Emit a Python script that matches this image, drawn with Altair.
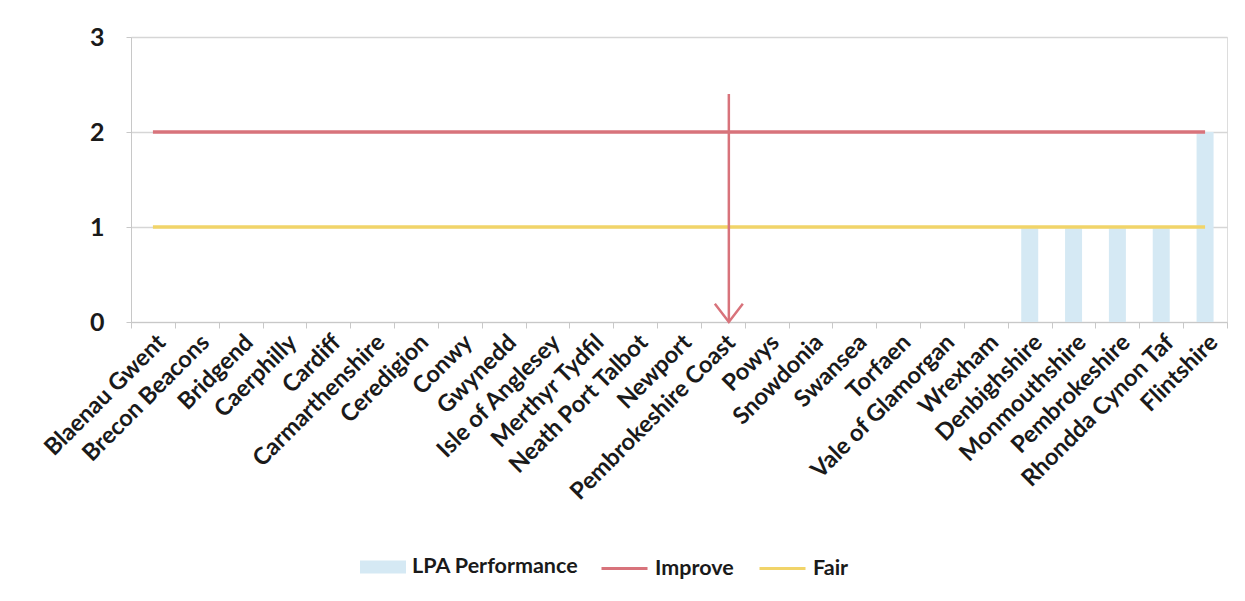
import altair as alt
import pandas as pd

categories = ["Blaenau Gwent", "Brecon Beacons", "Bridgend", "Caerphilly", "Cardiff",
              "Carmarthenshire", "Ceredigion", "Conwy", "Gwynedd", "Isle of Anglesey",
              "Merthyr Tydfil", "Neath Port Talbot", "Newport", "Pembrokeshire Coast",
              "Powys", "Snowdonia", "Swansea", "Torfaen", "Vale of Glamorgan", "Wrexham",
              "Denbighshire", "Monmouthshire", "Pembrokeshire", "Rhondda Cynon Taf", "Flintshire"]
lpa_values = [0, 0, 0, 0, 0, 0, 0, 0, 0, 0, 0, 0, 0, 0, 0, 0, 0, 0, 0, 0, 1, 1, 1, 1, 2]
improve_values = [2, 2, 2, 2, 2, 2, 2, 2, 2, 2, 2, 2, 2, 2, 2, 2, 2, 2, 2, 2, 2, 2, 2, 2, 2]
fair_values = [1, 1, 1, 1, 1, 1, 1, 1, 1, 1, 1, 1, 1, 1, 1, 1, 1, 1, 1, 1, 1, 1, 1, 1, 1]
bar_series = ["LPA Performance"]
bar_colors = ["#d5e9f4"]
line_series = ["Improve", "Fair"]
line_colors = ["#d8737b", "#f1d469"]
arrow_category = ["Pembrokeshire Coast"]
arrow_top = [2.4]
arrow_bottom = [0]

FONT = "Lato"

bars_df = pd.DataFrame({"category": categories, "value": lpa_values, "series": bar_series[0]})
lines_df = pd.concat([
    pd.DataFrame({"category": categories, "value": improve_values, "series": "Improve"}),
    pd.DataFrame({"category": categories, "value": fair_values, "series": "Fair"}),
], ignore_index=True)
arrow_df = pd.DataFrame({"category": arrow_category, "top": arrow_top, "bottom": arrow_bottom})

x_enc = alt.X("category:N", sort=categories,
              scale=alt.Scale(paddingInner=0, paddingOuter=0),
              axis=alt.Axis(title=None, labelAngle=-45, labelFont=FONT, labelFontSize=23.5,
                            labelFontWeight="bold", labelColor="#1a1a1a", labelPadding=2,
                            labelLimit=0,
                            tickBand="extent", tickSize=6, tickColor="#c8c8c8",
                            domainColor="#c8c8c8", grid=False, labelOverlap=False))
y_scale = alt.Scale(domain=[0, 3], nice=False)
y_axis = alt.Axis(title=None, values=[0, 1, 2, 3], format="d", labelFont=FONT,
                  labelFontSize=25, labelFontWeight="bold", labelColor="#1a1a1a",
                  labelPadding=22, tickSize=5, tickColor="#c8c8c8", domainColor="#c8c8c8",
                  gridColor="#d6d6d6", gridWidth=1.5)

legend_common = dict(title=None, orient="none", direction="horizontal", labelFont=FONT,
                     labelFontSize=21.5, labelFontWeight="bold", labelColor="#1a1a1a",
                     labelOffset=6, columnPadding=19, symbolSize=2116, labelLimit=0)

bars = alt.Chart(bars_df).mark_bar(size=17).encode(
    x=x_enc,
    y=alt.Y("value:Q", scale=y_scale, axis=y_axis),
    color=alt.Color("series:N", scale=alt.Scale(domain=bar_series, range=bar_colors),
                    legend=alt.Legend(legendX=229, legendY=507,
                                      symbolType="M-1,-0.28H1V0.28H-1Z",
                                      symbolStrokeWidth=0, **legend_common)),
)

lines = alt.Chart(lines_df).mark_line(strokeWidth=3.5).encode(
    x=alt.X("category:N", sort=categories),
    y=alt.Y("value:Q"),
    stroke=alt.Stroke("series:N", scale=alt.Scale(domain=line_series, range=line_colors),
                      legend=alt.Legend(legendX=469, legendY=507, symbolType="stroke",
                                        symbolStrokeWidth=3, **legend_common)),
)

arrow_line = alt.Chart(arrow_df).mark_rule(color="#d8737b", strokeWidth=2.5, xOffset=6).encode(
    x=alt.X("category:N", sort=categories),
    y=alt.Y("top:Q"),
    y2="bottom:Q",
)

arrow_head = alt.Chart(arrow_df).mark_point(
    shape="M-1,-1.3L0,0L1,-1.3", size=784, filled=False, color="#d8737b",
    strokeWidth=2.5, opacity=1, xOffset=6).encode(
    x=alt.X("category:N", sort=categories),
    y=alt.Y("bottom:Q"),
)

chart = alt.layer(bars, lines, arrow_line, arrow_head).properties(
    width=1096, height=285,
    autosize=alt.AutoSizeParams(type="none"),
    padding={"left": 123, "top": 29, "right": 10, "bottom": 271},
).configure_view(stroke=None).configure(background="white")

chart.save("out.html", embed_options={"renderer": "svg", "actions": False})
